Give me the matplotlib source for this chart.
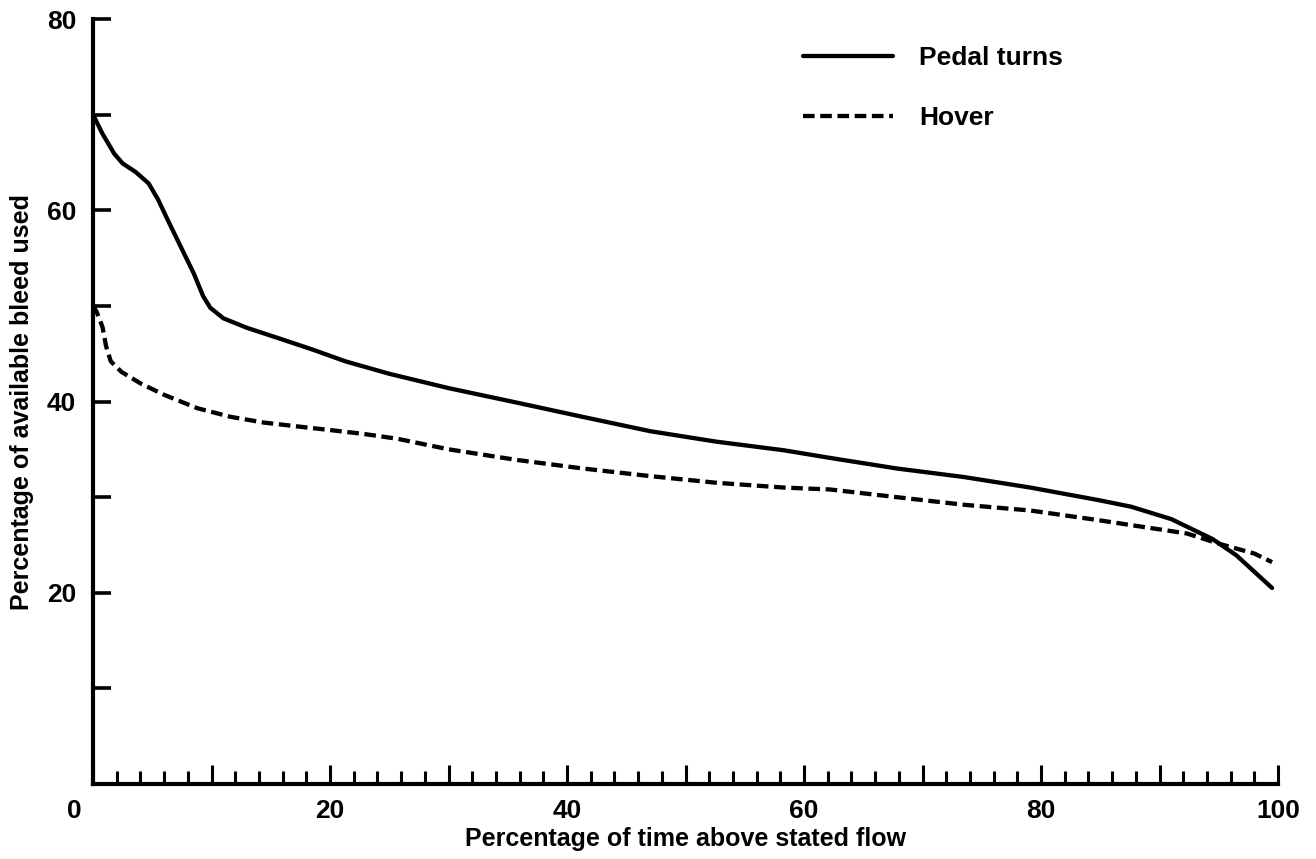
import numpy as np
import matplotlib
matplotlib.use('Agg')
import matplotlib.pyplot as plt
from matplotlib.transforms import ScaledTranslation

# Values
pedal_x = [0, 0.8, 1.8, 2.5, 3.6, 4.7, 5.5, 6.3, 7.4, 8.5, 9.3, 9.9, 11, 13, 15.7,
           18.6, 21.3, 25, 30, 35.7, 41.3, 47, 52.6, 58.3, 62.2, 67.8, 73.5, 79.1,
           84.8, 87.6, 91, 94.5, 96.5, 99.5]
pedal_y = [70, 68.0, 65.9, 64.9, 64.0, 62.8, 61.1, 59.0, 56.2, 53.4, 51.0, 49.8, 48.7, 47.7, 46.6,
           45.4, 44.2, 42.9, 41.4, 39.9, 38.4, 36.9, 35.8, 34.9, 34.1, 33.0, 32.1, 31.0,
           29.7, 29.0, 27.7, 25.6, 23.9, 20.5]

hover_x = [0, 0.3, 0.8, 1.1, 1.5, 2.4, 4.0, 6.0, 8.8, 11.6, 14.4, 17.2, 20.1, 22.9, 25.7,
           30, 35.7, 41.3, 47, 52.6, 58.3, 62.2, 67.8, 73.5, 79.1, 84.8, 88, 92.3, 95.1,
           98, 99.5]
hover_y = [50, 49.4, 47.8, 45.8, 44.2, 43.1, 41.9, 40.7, 39.3, 38.4, 37.8, 37.4, 37.0, 36.6, 36.1,
           35.0, 33.9, 33.0, 32.2, 31.5, 31.0, 30.8, 30.0, 29.2, 28.6, 27.6, 27.0, 26.2, 25.1,
           24.1, 23.2]

xtick_pos = [0, 10, 20, 30, 40, 50, 60, 70, 80, 90, 100]
xtick_labels = ['0', '', '20', '', '40', '', '60', '', '80', '', '100']
ytick_pos = [20, 40, 60, 80]
ytick_labels = ['20', '40', '60', '80']

plt.rcParams['font.family'] = ['Liberation Sans', 'DejaVu Sans']
plt.rcParams['font.weight'] = 'bold'

fig = plt.figure(figsize=(13.16, 8.59), dpi=100)
ax = fig.add_axes([93 / 1316, 1 - 784 / 859, 1185 / 1316, 765 / 859])

ax.plot(pedal_x, pedal_y, color='black', lw=3.1, label='Pedal turns',
        solid_joinstyle='round', solid_capstyle='round')
ax.plot(hover_x, hover_y, color='black', lw=3.1, linestyle=(0, (2.7, 1.3)),
        label='Hover')

ax.set_xlim(0, 100)
ax.set_ylim(0, 80)

for side in ['top', 'right']:
    ax.spines[side].set_visible(False)
for side in ['left', 'bottom']:
    ax.spines[side].set_linewidth(3)

# x axis: minor ticks every 2, taller ones every 10, pointing up
ax.set_xticks(xtick_pos)
ax.set_xticklabels(['' if t == '0' else t for t in xtick_labels])
ax.set_xticks(np.arange(2, 100, 2), minor=True)
ax.tick_params(axis='x', which='major', direction='in', length=14, width=2.2,
               pad=11, labelsize=19)
ax.tick_params(axis='x', which='minor', direction='in', length=9.5, width=2.2)
# the "0" sits a bit left of the corner
ax.text(0, 0, xtick_labels[0], fontsize=19, fontweight='bold', ha='center', va='top',
        transform=ax.get_xaxis_transform() + ScaledTranslation(-19 / 100, -11 / 72,
                                                               fig.dpi_scale_trans))

# y axis: ticks every 10, labels every 20, pointing right
ax.set_yticks(ytick_pos)
ax.set_yticklabels(ytick_labels)
ax.set_yticks([10, 30, 50, 70], minor=True)
ax.tick_params(axis='y', which='both', direction='in', length=13, width=2.6,
               pad=12, labelsize=19)

ax.set_xlabel('Percentage of time above stated flow', fontsize=18, fontweight='bold')
ax.set_ylabel('Percentage of available bleed used', fontsize=18, fontweight='bold')
ax.xaxis.set_label_coords(0.5, -0.056)
ax.yaxis.set_label_coords(-0.05, 0.5)

ax.legend(loc='upper left', bbox_to_anchor=(803 / 1316, 1 - 46 / 859),
          bbox_transform=fig.transFigure, frameon=False, fontsize=19,
          handlelength=3.4, handletextpad=1.0, labelspacing=1.36,
          borderpad=0, borderaxespad=0)

fig.savefig('out.png', dpi=100)
